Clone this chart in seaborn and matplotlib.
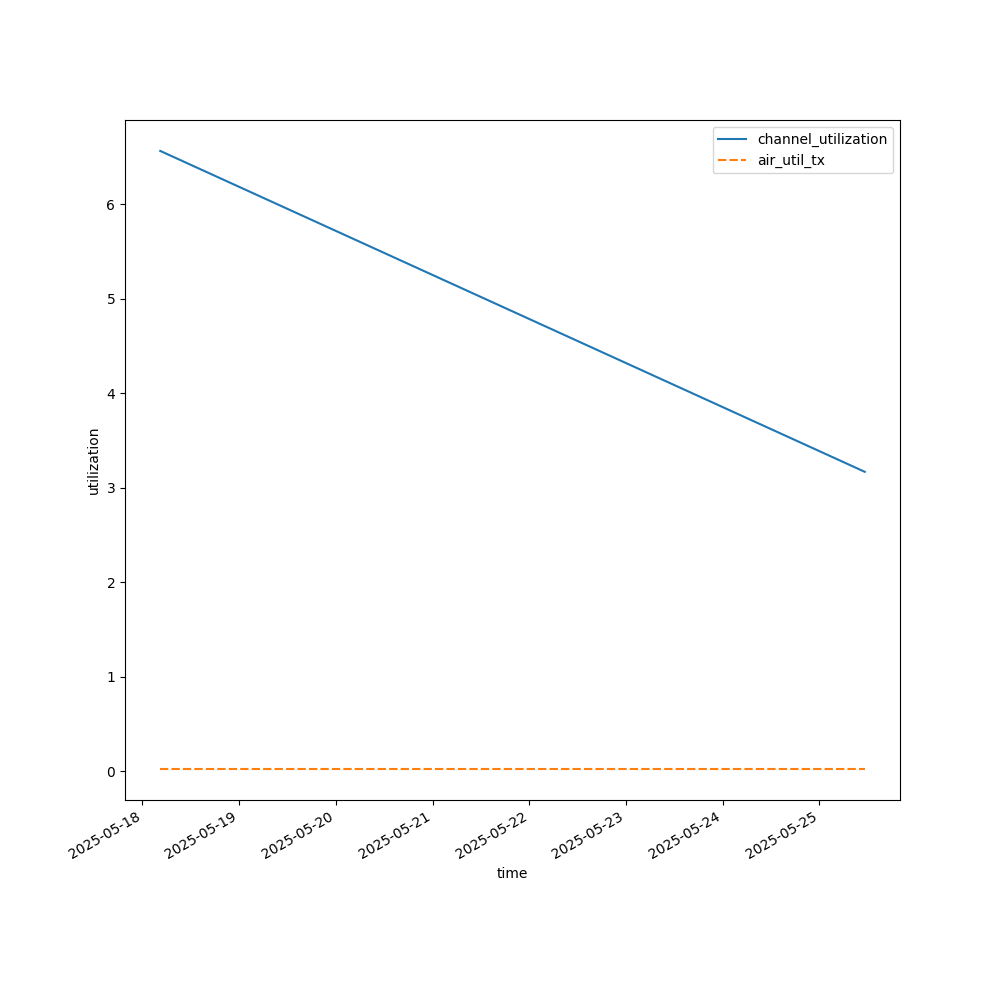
import matplotlib
matplotlib.use("Agg")
import matplotlib.pyplot as plt
import seaborn as sns
import pandas as pd

times = ["2025-05-18 04:25", "2025-05-25 11:15"]
channel_utilization = [6.565, 3.17]
air_util_tx = [0.025, 0.025]

df = pd.DataFrame(
    {"channel_utilization": channel_utilization, "air_util_tx": air_util_tx},
    index=pd.to_datetime(times),
)

fig, ax = plt.subplots(figsize=(10, 10), dpi=100)
sns.lineplot(data=df, ax=ax)
ax.set_xlabel("time")
ax.set_ylabel("utilization")
fig.autofmt_xdate()
fig.savefig("out.png")
